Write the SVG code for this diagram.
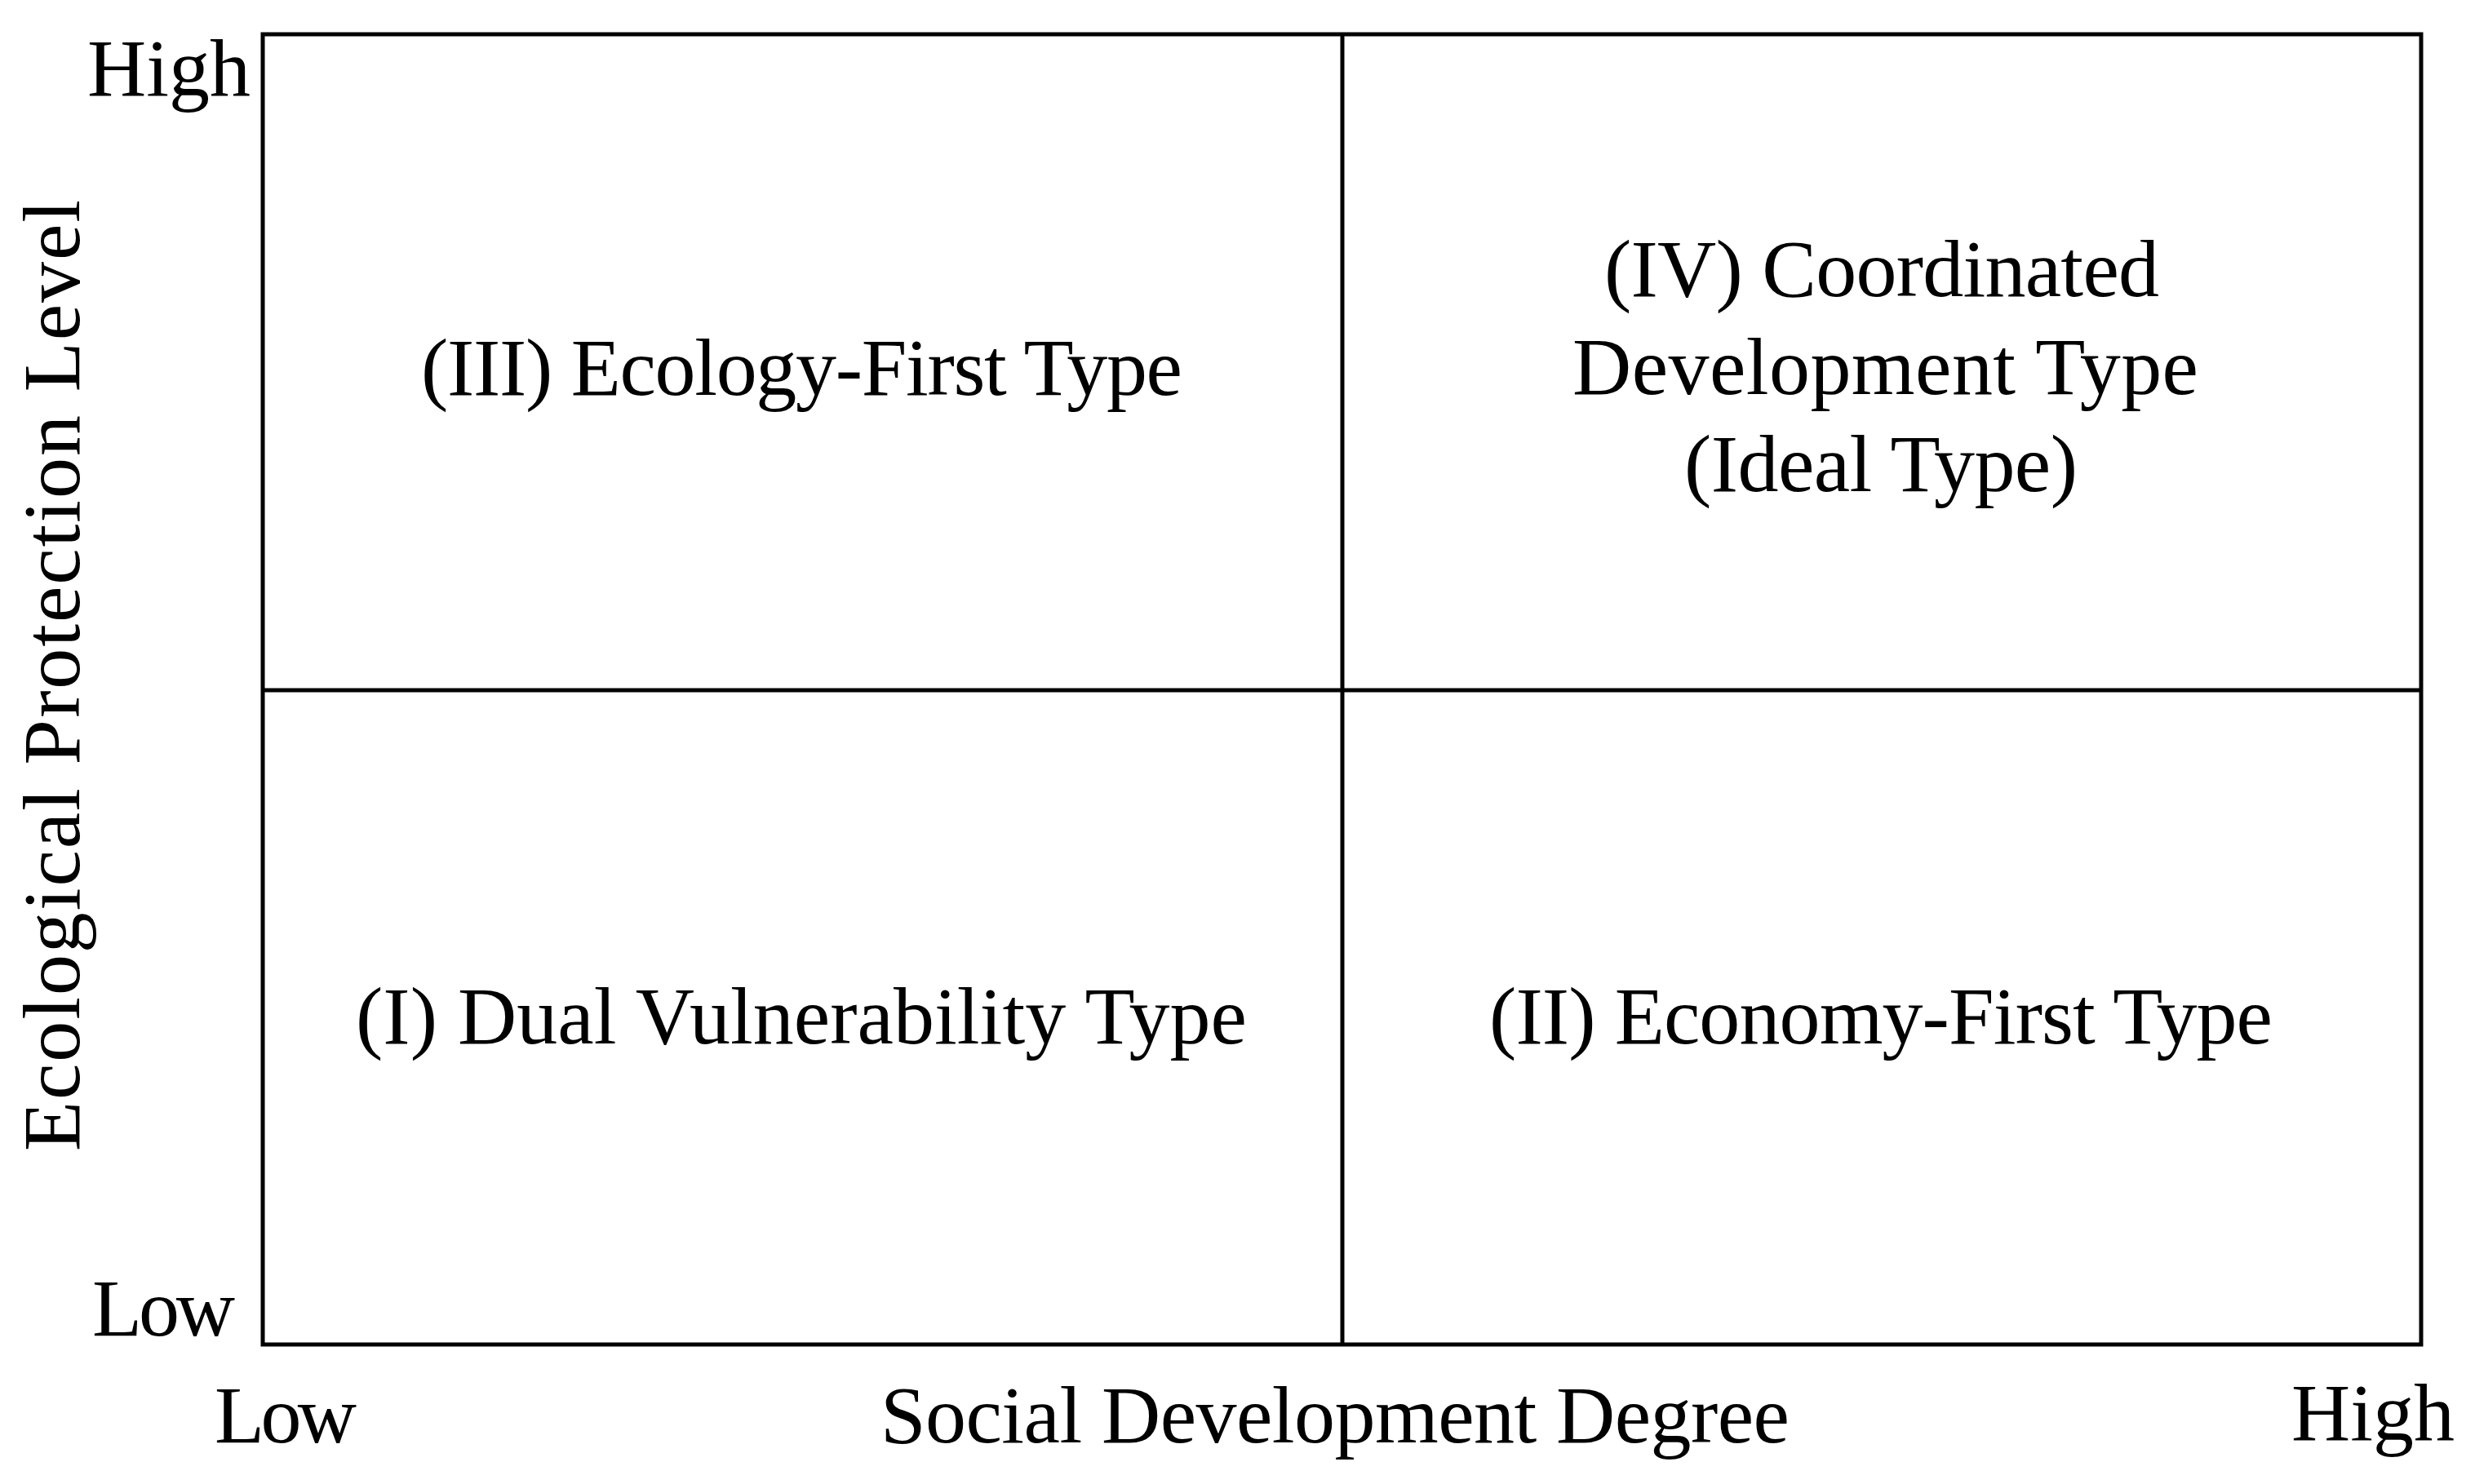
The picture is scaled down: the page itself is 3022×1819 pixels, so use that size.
<svg xmlns="http://www.w3.org/2000/svg" width="3022" height="1819" viewBox="0 0 3022 1819">
<style>
text{font-family:"Liberation Serif","DejaVu Serif",serif;font-size:100px;fill:#000}
.q{text-anchor:middle}
.ln{stroke:#000;stroke-width:5;fill:none}
</style>
<rect width="3022" height="1819" fill="#fff"/>
<g id="connectors">
<rect class="ln" x="322" y="42" width="2645" height="1606"/>
<line class="ln" x1="1645" y1="42" x2="1645" y2="1648"/>
<line class="ln" x1="322" y1="846" x2="2967" y2="846"/>
</g>
<g id="axis-y-high"><text x="107" y="117" textLength="200">High</text></g>
<g id="axis-y-low"><text x="113" y="1637" textLength="175">Low</text></g>
<g id="axis-x-low"><text x="263" y="1768" textLength="174">Low</text></g>
<g id="axis-x-high"><text x="2808" y="1765" textLength="200">High</text></g>
<g id="axis-x-title"><text x="1079" y="1768" textLength="1114">Social Development Degree</text></g>
<g id="axis-y-title"><text transform="translate(97,1411) rotate(-90)" x="0" y="0" textLength="1166">Ecological Protection Level</text></g>
<g id="q3"><text x="516" y="484" textLength="933">(III) Ecology-First Type</text></g>
<g id="q4">
<text x="1966" y="363" textLength="680">(IV) Coordinated</text>
<text x="1927" y="483" textLength="767">Development Type</text>
<text x="2064" y="602" textLength="482">(Ideal Type)</text>
</g>
<g id="q1"><text x="436" y="1279" textLength="1092">(I) Dual Vulnerability Type</text></g>
<g id="q2"><text x="1825" y="1279" textLength="960">(II) Economy-First Type</text></g>
</svg>
